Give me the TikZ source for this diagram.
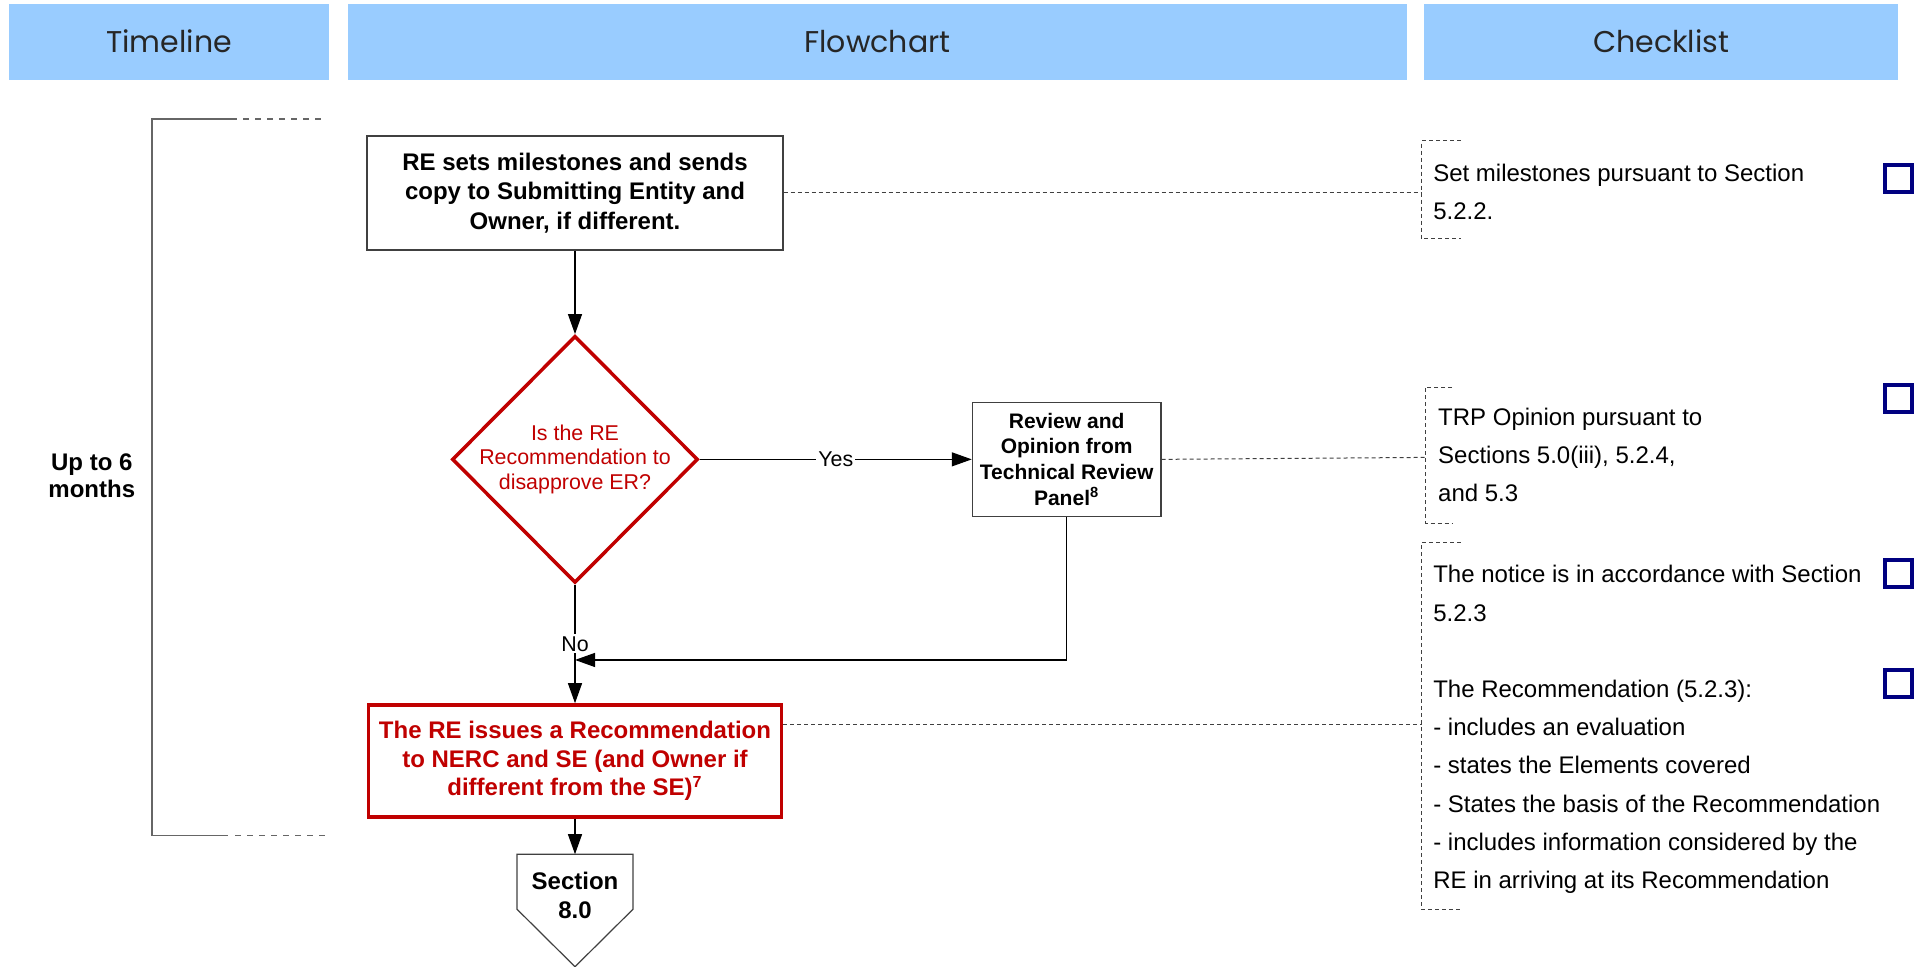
\documentclass[tikz,border=0pt]{standalone}
\usepackage{fontspec}
\setmainfont{Liberation Sans}
\newfontfamily\headfont{Poppins}
\usetikzlibrary{shapes.geometric}
\usetikzlibrary{arrows.meta}
\usetikzlibrary{positioning}
\usetikzlibrary{calc}
\definecolor{hdrblue}{HTML}{99CCFF}
\definecolor{rered}{HTML}{C00000}
\definecolor{ckblue}{HTML}{000080}
\definecolor{linegray}{HTML}{404040}

\begin{document}
\begin{tikzpicture}[x=0.5pt, y=-0.5pt, >={Triangle[length=10pt,width=7pt]}, line width=0.6pt]
    \tikzstyle{header}=[fill=hdrblue, minimum height=38pt, inner sep=0pt, text=black!85, font=\headfont\fontsize{15pt}{18pt}\selectfont]
    \tikzstyle{process}=[draw=linegray, fill=white, align=center, inner sep=2pt, font=\bfseries\fontsize{12pt}{14.7pt}\selectfont]
    \tikzstyle{redbox}=[process, draw=rered, line width=1.75pt, text=rered, font=\bfseries\fontsize{12pt}{14.4pt}\selectfont]
    \tikzstyle{decision}=[diamond, shape aspect=1, draw=rered, line width=1.75pt, text=rered, align=center, inner sep=-4pt, font=\fontsize{10.7pt}{12.25pt}\selectfont]
    \tikzstyle{answer}=[fill=white, inner sep=1pt, font=\fontsize{10.7pt}{12pt}\selectfont]
    \tikzstyle{link}=[draw=linegray, line width=0.5pt, dash pattern=on 2pt off 1.5pt]
    \tikzstyle{tline}=[draw=linegray!80, line width=0.75pt]
    \tikzstyle{cktext}=[anchor=west, align=left, inner sep=0pt, font=\fontsize{12pt}{19.1pt}\selectfont]
    \tikzstyle{chkbox}=[draw=ckblue, line width=2pt, minimum size=13.5pt, inner sep=0pt]
    \useasboundingbox (0,0) rectangle (1920,966);

    % column headers
    \node[header, minimum width=160.4pt] (htime)  at (169,41.6)   {Timeline};
    \node[header, minimum width=529.6pt] (hflow)  at (877.4,41.6) {Flowchart};
    \node[header, minimum width=237pt]   (hcheck) at (1661,41.6)  {Checklist};

    % timeline
    \draw[tline] (231,118.8) -| (151.8,835.5) -- (228,835.5);
    \draw[tline, dashed] (231,118.8) -- (320.8,118.8);
    \draw[tline, dashed] (235,835.5) -- (330,835.5);
    \node[font=\bfseries\fontsize{12pt}{13.5pt}\selectfont, align=center] (months) at (91.8,476) {Up to 6\\months};

    % flowchart
    \node[process, minimum width=208pt, minimum height=57pt] (setms) at (575,192.9)
        {RE sets milestones and sends\\copy to Submitting Entity and\\Owner, if different.};
    \node[decision, minimum width=123pt, minimum height=123.5pt] (isrec) [below=41.8pt of setms]
        {Is the RE\\Recommendation to\\disapprove ER?};
    \node[process, minimum width=94.3pt, minimum height=57pt, font=\bfseries\fontsize{10.5pt}{12.9pt}\selectfont] (trp) [right=136pt of isrec]
        {Review and\\Opinion from\\Technical Review\\Panel\textsuperscript{8}};
    \node[redbox, minimum width=206.3pt, minimum height=56pt] (recom) [below=59.3pt of isrec]
        {The RE issues a Recommendation\\to NERC and SE (and Owner if\\different from the SE)\textsuperscript{7}};
    \coordinate[below=17.75pt of recom] (sectop);
    \draw[draw=linegray] (sectop) -- ++(58,0) -- ++(0,55) -- ++(-58,57.5) -- ++(-58,-57.5) -- ++(0,-55) -- cycle;
    \node[font=\bfseries\fontsize{12pt}{14.7pt}\selectfont, align=center] (sec) at ($(sectop)+(0,41)$) {Section\\8.0};

    \path[->, draw=black]
    (setms)
      edge	(isrec)
    (isrec)
      edge	node[answer]{Yes}	(trp)
      edge	node[answer]{No}	(recom)
    (recom)
      edge	(sectop);
    \coordinate (turn) at ($(trp.south)+(0,143)$);
    \draw[->] (trp.south) |- (turn -| isrec.south);

    % checklist
    \coordinate (ck1) at (1421.6,192.9);
    \coordinate (ck2) at (1425.3,457.4);
    \coordinate (ck3) at (1421.6,724);
    \draw[link] (1460.8,140.8) -| (1421.6,238.8) -- (1460.8,238.8);
    \draw[link] (1452,387) -| (1425.3,523) -- (1452,523);
    \draw[link] (1460.8,542.5) -| (1421.6,909.8) -- (1460.8,909.8);
    \draw[link] (setms.east) -- (ck1);
    \draw[link] (trp.east) -- (ck2);
    \draw[link] (recom.east |- ck3) -- (ck3);

    \node[cktext] (ct1) at (1432.7,191.6) {Set milestones pursuant to Section\\5.2.2.};
    \node[cktext] (ct2) at (1437.6,455)   {TRP Opinion pursuant to\\Sections 5.0(iii), 5.2.4,\\and 5.3};
    \node[cktext] (ct3) at (1432.7,729.5) {The notice is in accordance with Section\\5.2.3\\[19.1pt]The Recommendation (5.2.3):\\- includes an evaluation\\- states the Elements covered\\- States the basis of the Recommendation\\- includes information considered by the\\RE in arriving at its Recommendation};

    \node[chkbox] (chk1) at (1898.5,178.5) {};
    \node[chkbox] (chk2) at (1898.5,398)   {};
    \node[chkbox] (chk3) at (1898.5,573)   {};
    \node[chkbox] (chk4) at (1898.5,683.3) {};
\end{tikzpicture}
\end{document}
